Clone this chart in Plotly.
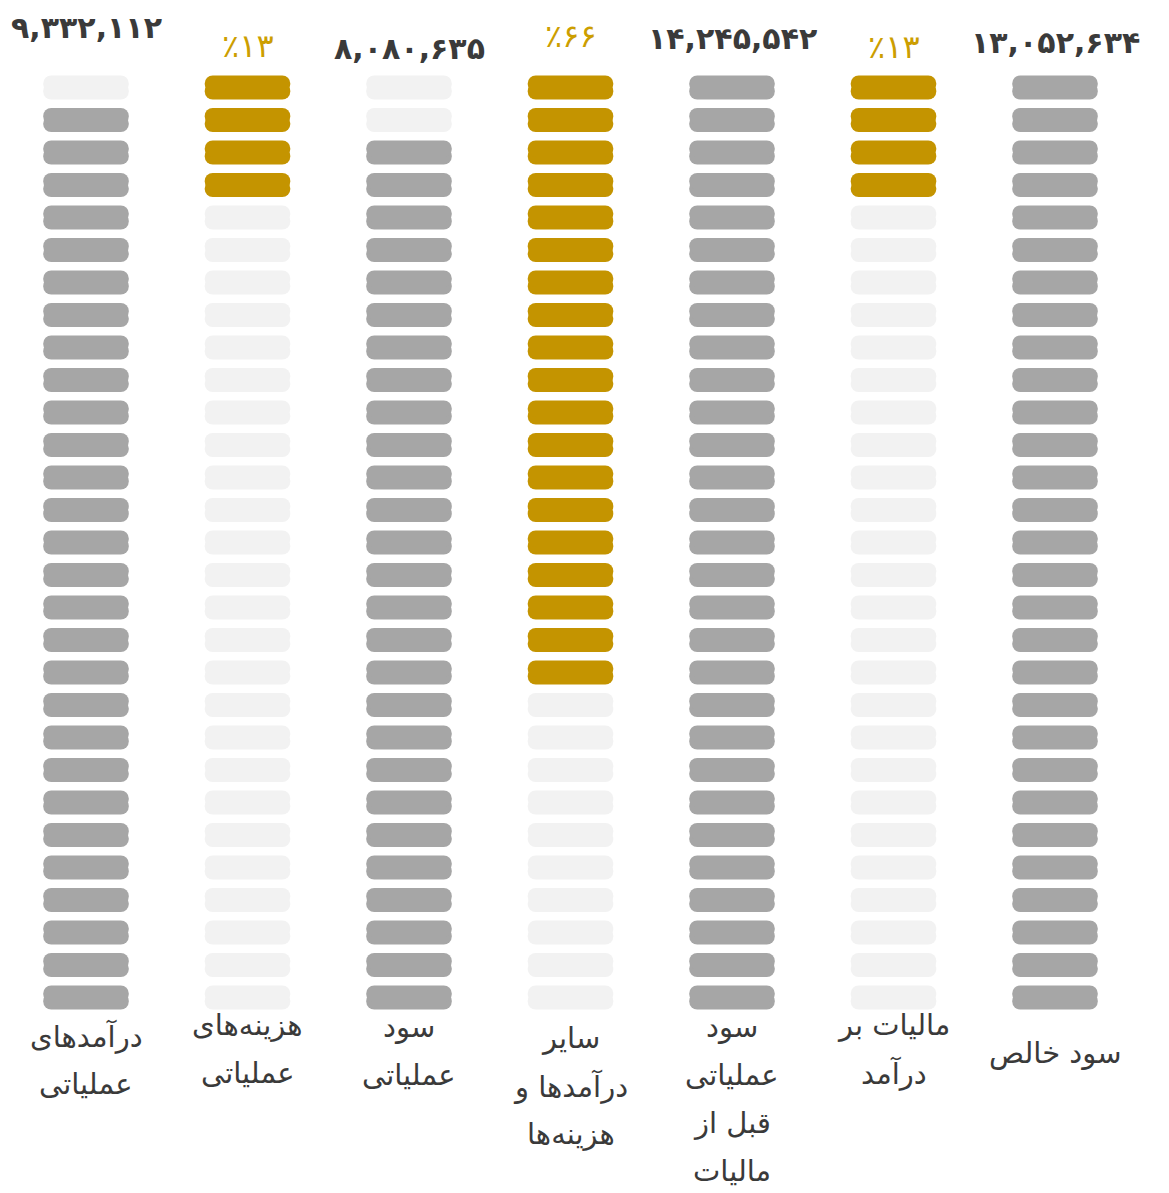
import plotly.graph_objects as go

# ---------------- data ----------------
labels = [
    "درآمدهای\nعملیاتی",
    "هزینه‌های\nعملیاتی",
    "سود\nعملیاتی",
    "سایر\nدرآمدها و\nهزینه‌ها",
    "سود\nعملیاتی\nقبل از\nمالیات",
    "مالیات بر\nدرآمد",
    "سود خالص",
]
value_texts = ["۹,۳۳۲,۱۱۲", "٪۱۳", "۸,۰۸۰,۶۳۵", "٪۶۶", "۱۴,۲۴۵,۵۴۲", "٪۱۳", "۱۳,۰۵۲,۶۳۴"]
filled_units = [28, 4, 27, 19, 29, 4, 29]
is_percent = [False, True, False, True, False, True, False]
total_units = 29

# ---------------- style ----------------
GRAY = "#a6a6a6"
EMPTY = "#f2f2f2"
GOLD = "#c49400"
VALUE_DARK = "#3a3a3a"
VALUE_GOLD = "#cc9e00"
LABEL_COLOR = "#3a3a3a"
PAGE_OFFSET = 8                      # default body margin of the html page
W, H = 1169 - PAGE_OFFSET, 1193 - PAGE_OFFSET
ROW_PX = 32.5                        # pixel pitch of the unit pills
FIRST_ROW_PX = 87.5 - PAGE_OFFSET    # pixel centre of the top pill
COL_PX = 161.5                       # pixel pitch of the columns
FIRST_COL_PX = 86 - PAGE_OFFSET
PILL_HALF = 0.37                     # half pill height in row units
OVERLAP = 0.14
value_px = [27, 46, 48, 36, 38, 47, 43]
label_top_px = [1036, 1025, 1027, 1038, 1027, 1025, 1053]
LINE_GAP_PX = 48
MARGIN_R = 40

xs, bases, colors = [], [], []
for i, n in enumerate(filled_units):
    for k in range(total_units):
        if is_percent[i]:
            c = GOLD if k < n else EMPTY
        else:
            c = GRAY if k >= total_units - n else EMPTY
        xs.append(i)
        bases.append(k)
        colors.append(c)

fig = go.Figure()
for sign in (1, -1):
    fig.add_trace(go.Bar(
        x=xs, y=[sign * (PILL_HALF + OVERLAP)] * len(xs),
        base=[b - sign * OVERLAP for b in bases],
        marker=dict(color=colors, line=dict(width=0), cornerradius=10),
        width=0.53, hoverinfo="skip", showlegend=False,
    ))

# value texts
for i, t in enumerate(value_texts):
    fig.add_annotation(
        x=i, y=1 - (value_px[i] - PAGE_OFFSET) / H, xref="x", yref="paper",
        text=t, showarrow=False, yanchor="middle",
        font=dict(family="DejaVu Sans", size=32 if is_percent[i] else 30,
                  color=VALUE_GOLD if is_percent[i] else VALUE_DARK,
                  weight="normal" if is_percent[i] else "bold"),
    )

# category labels, one annotation per line
for i, lab in enumerate(labels):
    for j, line in enumerate(lab.split("\n")):
        fig.add_annotation(
            x=i, y=1 - (label_top_px[i] + j * LINE_GAP_PX - PAGE_OFFSET) / H,
            xref="x", yref="paper", text=line, showarrow=False,
            yanchor="middle",
            font=dict(family="DejaVu Sans", size=29, color=LABEL_COLOR),
        )

span_y = H / ROW_PX
r0_y = -FIRST_ROW_PX / ROW_PX
span_x = (W - MARGIN_R) / COL_PX
r0_x = -FIRST_COL_PX / COL_PX
fig.update_layout(
    width=W, height=H, barmode="overlay",
    margin=dict(l=0, r=MARGIN_R, t=0, b=0),
    paper_bgcolor="white", plot_bgcolor="white",
    xaxis=dict(range=[r0_x, r0_x + span_x], visible=False, fixedrange=True),
    yaxis=dict(range=[r0_y + span_y, r0_y], visible=False, fixedrange=True),
)
fig.write_html("out.html")
